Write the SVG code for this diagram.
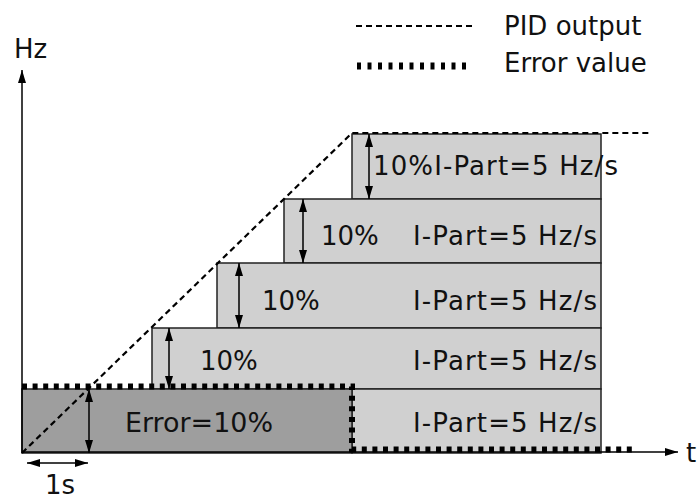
<svg xmlns="http://www.w3.org/2000/svg" width="697" height="501" viewBox="0 0 697 501">
<style>
  .t { font-family: "DejaVu Sans", Verdana, sans-serif; font-size: 26px; fill: #111; }
  .box { fill: #d0d0d0; stroke: #222; stroke-width: 1.5; }
  .err { fill: #9e9e9e; stroke: #222; stroke-width: 1.5; }
  .ln { stroke: #000; stroke-width: 1.5; fill: none; }
  .dbl { stroke: #000; stroke-width: 1.5; fill: none; marker-start: url(#ah); marker-end: url(#ah); }
  .pid { stroke: #000; stroke-width: 2.2; fill: none; stroke-dasharray: 6 4; }
  .ev { stroke: #000; stroke-width: 6; fill: none; stroke-dasharray: 5 5.6; }
</style>
<defs>
  <marker id="ah" viewBox="0 0 13 8" refX="13" refY="4" markerWidth="13" markerHeight="8" markerUnits="userSpaceOnUse" orient="auto-start-reverse">
    <path d="M0,0 L13,4 L0,8 z" fill="#000"/>
  </marker>
</defs>
<rect width="697" height="501" fill="#fff"/>

<g id="box5"><rect class="box" x="352" y="134" width="249" height="65"/></g>
<g id="box4"><rect class="box" x="284" y="199" width="317" height="64"/></g>
<g id="box3"><rect class="box" x="217" y="263" width="384" height="65"/></g>
<g id="box2"><rect class="box" x="152" y="328" width="449" height="61"/></g>
<g id="box1"><rect class="box" x="352" y="389" width="249" height="64"/></g>
<g id="errorbox"><rect class="err" x="22" y="389" width="330" height="64"/></g>

<g id="connectors">
  <line class="ln" x1="22" y1="453" x2="22" y2="70" marker-end="url(#ah)"/>
  <line class="ln" x1="22" y1="452" x2="678" y2="452" marker-end="url(#ah)"/>
  <path class="pid" d="M22,453 L352,133 H650"/>
  <path class="ev" d="M22,386.5 H352 V449.5 H637"/>
  <line class="dbl" x1="89" y1="389" x2="89" y2="453"/>
  <line class="dbl" x1="169" y1="328" x2="169" y2="389"/>
  <line class="dbl" x1="239" y1="263" x2="239" y2="328"/>
  <line class="dbl" x1="303" y1="199" x2="303" y2="263"/>
  <line class="dbl" x1="369" y1="134" x2="369" y2="199"/>
  <line class="dbl" x1="27" y1="463" x2="88" y2="463"/>
</g>

<g id="legend">
  <line class="pid" x1="356" y1="26" x2="472" y2="26" stroke-width="2"/>
  <line x1="357" y1="66" x2="472" y2="66" stroke="#000" stroke-width="7" stroke-dasharray="4 6.5"/>
  <text class="t" x="504" y="35">PID output</text>
  <text class="t" x="504" y="72">Error value</text>
</g>

<g id="labels">
  <text class="t" x="14" y="58">Hz</text>
  <text class="t" x="686" y="462">t</text>
  <text class="t" x="45" y="494">1s</text>
  <text class="t" x="125" y="432" textLength="148" lengthAdjust="spacingAndGlyphs">Error=10%</text>
  <text class="t" x="413" y="432" textLength="184">I-Part=5 Hz/s</text>
  <text class="t" x="200" y="370">10%</text>
  <text class="t" x="413" y="370" textLength="184">I-Part=5 Hz/s</text>
  <text class="t" x="262" y="310">10%</text>
  <text class="t" x="413" y="310" textLength="184">I-Part=5 Hz/s</text>
  <text class="t" x="321" y="245">10%</text>
  <text class="t" x="413" y="245" textLength="184">I-Part=5 Hz/s</text>
  <text class="t" x="373" y="175" textLength="245">10%I-Part=5 Hz/s</text>
</g>
</svg>
